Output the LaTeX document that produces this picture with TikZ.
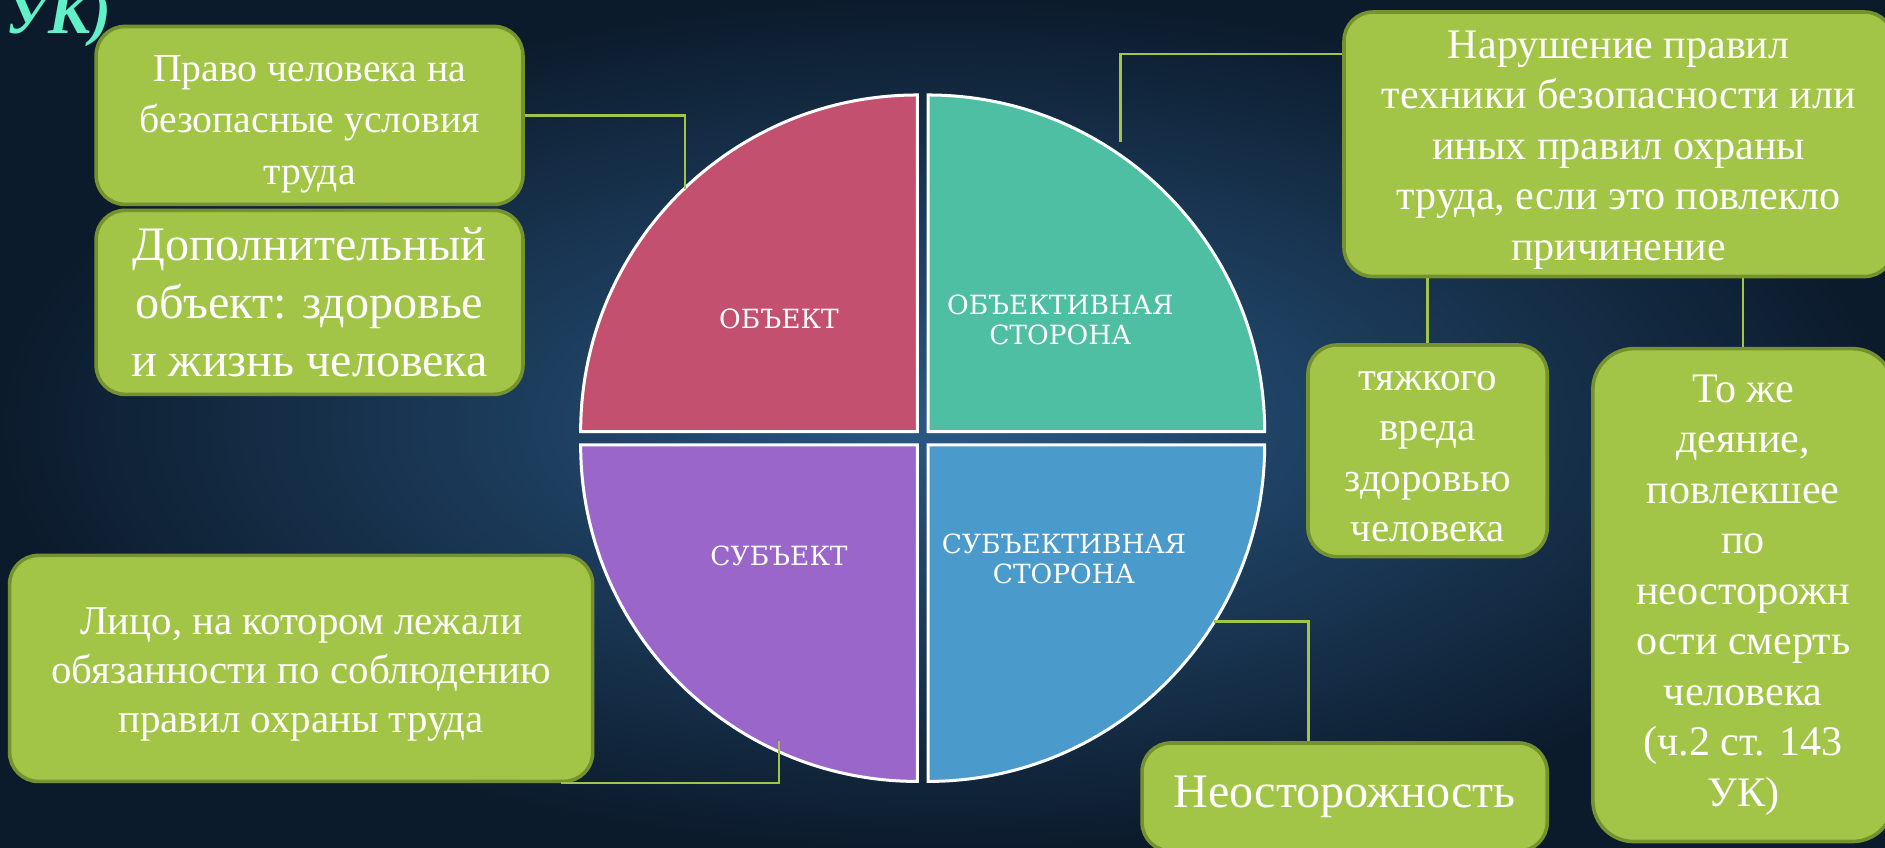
\documentclass[tikz,border=0pt]{standalone}
\usepackage{fontspec}
\setmainfont{Liberation Serif}
\newfontfamily\piefont{DejaVu Serif}
\usepackage{xcolor}
\definecolor{boxgreen}{HTML}{A2C548}
\definecolor{boxrim}{HTML}{76922F}
\definecolor{objcol}{HTML}{C4506F}
\definecolor{objsidecol}{HTML}{4FBFA3}
\definecolor{subjcol}{HTML}{9A66C9}
\definecolor{subjsidecol}{HTML}{4A9ACC}
\definecolor{bgmid}{HTML}{2A5884}
\definecolor{bgdark}{HTML}{0C1B2C}
\definecolor{titlecol}{HTML}{62F0C8}
\tikzset{
    box/.style = {align=center, inner sep=0pt, text=white, fill=boxgreen, draw=boxrim, line width=3pt, rounded corners=24pt},
    quad/.style = {draw=white, line width=2.5pt},
    qlabel/.style = {align=center, inner sep=0pt, text=white, font=\piefont\fontsize{22}{25}\selectfont},
    link/.style = {draw=boxgreen, line width=2pt}
}

\begin{document}
\begin{tikzpicture}[x=1pt, y=-1pt]
    \useasboundingbox (0,0) rectangle (1568,705);
    \shade[inner color=bgmid, outer color=bgdark] (0,0) rectangle (1568,705);
    % title remnant
    \node[anchor=base west, inner sep=0pt, text=titlecol, font=\bfseries\itshape\fontsize{52}{52}\selectfont] (title) at (4,28) {УК)};
    % quadrants
    \filldraw[quad, fill=objcol] (763,359) -- (483,359) arc[start angle=180, end angle=90, radius=280pt] -- cycle;
    \filldraw[quad, fill=objsidecol] (772,359) -- (772,79) arc[start angle=90, end angle=0, radius=280pt] -- cycle;
    \filldraw[quad, fill=subjcol] (763,370) -- (763,650) arc[start angle=270, end angle=180, radius=280pt] -- cycle;
    \filldraw[quad, fill=subjsidecol] (772,370) -- (1052,370) arc[start angle=0, end angle=-90, radius=280pt] -- cycle;
    \node[qlabel] (obj) at (648,265) {ОБЪЕКТ};
    \node[qlabel] (objside) at (882,266) {ОБЪЕКТИВНАЯ\\СТОРОНА};
    \node[qlabel] (subj) at (648,462) {СУБЪЕКТ};
    \node[qlabel] (subjside) at (885,465) {СУБЪЕКТИВНАЯ\\СТОРОНА};
    \coordinate (objpin) at (570,157);
    \coordinate (objsidepin) at (932,118);
    \coordinate (subjpin) at (648,616);
    \coordinate (subjsidepin) at (1010,517);
    % boxes
    \node[box, minimum width=355pt, minimum height=148pt, font=\fontsize{33}{43}\selectfont] (right) at (257.5,96) {\rule{0pt}{1.1em}Право человека на\\безопасные условия\\труда};
    \node[box, minimum width=355pt, minimum height=153pt, font=\fontsize{40}{48}\selectfont] (extra) at (257.5,251.5) {Дополнительный\\объект: здоровье\\и жизнь человека};
    \node[box, minimum width=485pt, minimum height=188pt, font=\fontsize{34}{41}\selectfont] (person) at (250.5,556) {\rule{0pt}{0.95em}Лицо, на котором лежали\\обязанности по соблюдению\\правил охраны труда};
    \node[box, minimum width=457pt, minimum height=220pt, font=\fontsize{35}{42}\selectfont] (breach) at (1346.5,120) {\rule{0pt}{0.92em}Нарушение правил\\техники безопасности или\\иных правил охраны\\труда, если это повлекло\\причинение};
    \node[box, minimum width=199pt, minimum height=176pt, font=\fontsize{34}{42}\selectfont] (harm) at (1187.5,375) {\rule{0pt}{0.75em}тяжкого\\вреда\\здоровью\\человека};
    \node[box, minimum width=250pt, minimum height=410pt, rounded corners=34pt, font=\fontsize{35}{42}\selectfont] (death) at (1450,495) {То же\\деяние,\\повлекшее\\по\\неосторожн\\ости смерть\\человека\\(ч.2 ст. 143\\УК)};
    \node[box, minimum width=337pt, minimum height=90pt, font=\fontsize{40}{48}\selectfont] (neglect) at (1118.5,663) {Неосторожность};
    % connectors
    \draw[link] (right.east) -| (objpin);
    \draw[link] ([yshift=75pt]breach.west) -| (objsidepin);
    \draw[link] (harm.north) -- (harm.north |- breach.south);
    \draw[link] (death.north) -- (death.north |- breach.south);
    \draw[link] (subjsidepin) -| ([xshift=-30pt]neglect.north);
    \draw[link] ([xshift=-28pt]person.south east) -| (subjpin);
\end{tikzpicture}
\end{document}
